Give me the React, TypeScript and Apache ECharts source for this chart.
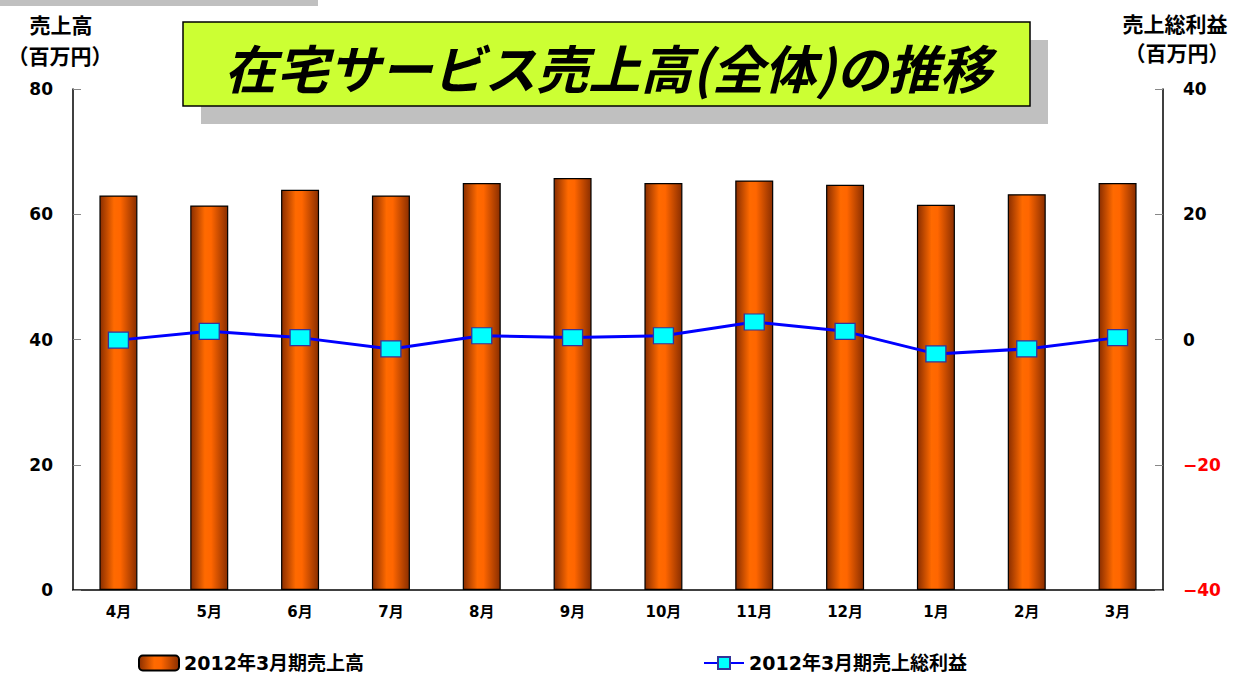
import React, { useEffect, useRef } from "react";
import * as echarts from "echarts";

const categories = ["4月", "5月", "6月", "7月", "8月", "9月", "10月", "11月", "12月", "1月", "2月", "3月"];
const salesValues = [63.0, 61.4, 63.9, 63.0, 65.0, 65.8, 65.0, 65.4, 64.7, 61.5, 63.2, 65.0];
const grossProfitValues = [-0.1, 1.3, 0.3, -1.5, 0.6, 0.3, 0.6, 2.8, 1.3, -2.3, -1.5, 0.3];
const leftTicks = { min: 0, max: 80, interval: 20 };
const rightTicks = { min: -40, max: 40, interval: 20 };
const salesName = "2012年3月期売上高";
const profitName = "2012年3月期売上総利益";
const titleText = "在宅サービス売上高(全体)の推移";
const leftAxisName = ["売上高", "（百万円）"];
const rightAxisName = ["売上総利益", "（百万円）"];

const FONT = "'DejaVu Sans', 'Noto Sans CJK JP', sans-serif";
const CJK = "'Noto Sans CJK JP', sans-serif";

export default function App() {
  const ref = useRef<HTMLDivElement>(null);
  useEffect(() => {
    if (!ref.current) return;
    const chart = echarts.init(ref.current, undefined, { renderer: "svg" });
    const barGradient = new echarts.graphic.LinearGradient(0, 0, 1, 0, [
      { offset: 0, color: "#8a2e00" },
      { offset: 0.38, color: "#ff6a00" },
      { offset: 0.55, color: "#ff6600" },
      { offset: 1, color: "#8a2e00" },
    ]);
    const nameText = (x: number, y: number, text: string) => ({
      type: "text",
      x,
      y,
      style: {
        text,
        font: `bold 21px ${CJK}`,
        fill: "#000000",
        align: "center",
        verticalAlign: "middle",
      },
    });
    const legendText = { fontSize: 19, fontWeight: "bold", color: "#000", fontFamily: FONT, lineHeight: 20 };
    chart.setOption({
      animation: false,
      backgroundColor: "#ffffff",
      textStyle: { fontFamily: FONT },
      grid: { left: 73, right: 85, top: 89, bottom: 86 },
      graphic: [
        { type: "rect", shape: { x: 0, y: 0, width: 318, height: 6 }, style: { fill: "#c0c0c0" } },
        { type: "rect", shape: { x: 201, y: 40, width: 847, height: 84 }, style: { fill: "#c0c0c0" } },
        { type: "rect", shape: { x: 183, y: 22, width: 847, height: 84 }, style: { fill: "#ccff33", stroke: "#000000", lineWidth: 1.5 } },
        {
          type: "text",
          x: 608,
          y: 66,
          style: {
            text: titleText,
            font: `italic bold 52px ${CJK}`,
            fill: "#000000",
            align: "center",
            verticalAlign: "middle",
          },
        },
        nameText(61, 24, leftAxisName[0]),
        nameText(60, 55, leftAxisName[1]),
        nameText(1175, 23, rightAxisName[0]),
        nameText(1177, 52, rightAxisName[1]),
      ],
      legend: [
        {
          data: [salesName],
          left: 138,
          top: 653,
          padding: 0,
          itemWidth: 40,
          itemHeight: 15,
          textStyle: legendText,
        },
        {
          data: [profitName],
          left: 703,
          top: 653,
          padding: 0,
          itemWidth: 40,
          itemHeight: 15,
          textStyle: legendText,
        },
      ],
      xAxis: {
        type: "category",
        data: categories,
        axisLine: { lineStyle: { color: "#000", width: 1.5 } },
        axisTick: { inside: true, length: 6, lineStyle: { color: "#888" } },
        axisLabel: { margin: 14, fontSize: 15, fontWeight: "bold", color: "#000", fontFamily: FONT },
      },
      yAxis: [
        {
          type: "value",
          min: leftTicks.min,
          max: leftTicks.max,
          interval: leftTicks.interval,
          axisLine: { show: true, lineStyle: { color: "#000", width: 1.5 } },
          axisTick: { show: true, inside: true, length: 8, lineStyle: { color: "#888" } },
          splitLine: { show: false },
          axisLabel: { margin: 20, fontSize: 17, fontWeight: "bold", color: "#000", fontFamily: FONT },
        },
        {
          type: "value",
          min: rightTicks.min,
          max: rightTicks.max,
          interval: rightTicks.interval,
          position: "right",
          axisLine: { show: true, lineStyle: { color: "#000", width: 1.5 } },
          axisTick: { show: true, inside: true, length: 8, lineStyle: { color: "#888" } },
          splitLine: { show: false },
          axisLabel: {
            margin: 20,
            fontSize: 17,
            fontWeight: "bold",
            fontFamily: FONT,
            formatter: (v: number) => (v < 0 ? "−" + Math.abs(v) : String(v)),
            color: (v: any) => (Number(v) < 0 ? "#ff0000" : "#000000"),
          },
        },
      ],
      series: [
        {
          name: salesName,
          type: "bar",
          data: salesValues,
          barWidth: 38,
          itemStyle: { color: barGradient, borderColor: "#000", borderWidth: 1.2 },
        },
        {
          name: profitName,
          type: "line",
          yAxisIndex: 1,
          data: grossProfitValues,
          symbol: "rect",
          symbolSize: [20, 16],
          lineStyle: { color: "#0000ff", width: 3 },
          itemStyle: { color: "#00ffff", borderColor: "#333399", borderWidth: 1.2 },
        },
      ],
    });
    return () => chart.dispose();
  }, []);
  return <div ref={ref} style={{ position: "fixed", left: 0, top: 0, width: 1248, height: 676 }} />;
}
